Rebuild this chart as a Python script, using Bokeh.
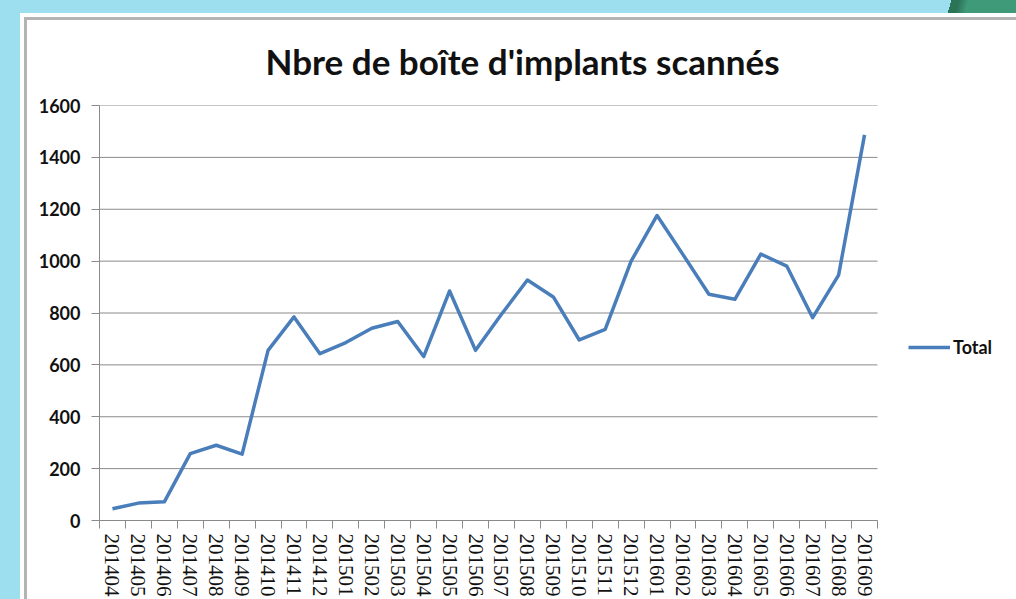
from bokeh.plotting import figure
from bokeh.models import Range1d, FixedTicker, Legend, LegendItem
from bokeh.embed import file_html
from bokeh.resources import INLINE

# ---- data ----
months = ["201404", "201405", "201406", "201407", "201408", "201409",
          "201410", "201411", "201412", "201501", "201502", "201503",
          "201504", "201505", "201506", "201507", "201508", "201509",
          "201510", "201511", "201512", "201601", "201602", "201603",
          "201604", "201605", "201606", "201607", "201608", "201609"]
totals = [45, 67, 72, 258, 290, 256,
          656, 785, 643, 686, 741, 767,
          632, 885, 656, 795, 927, 862,
          696, 737, 1000, 1176, 1025, 872,
          853, 1027, 981, 782, 946, 1487]
y_ticks = [0, 200, 400, 600, 800, 1000, 1200, 1400, 1600]
title_text = "Nbre de boîte d'implants scannés"
series_name = "Total"

n = len(months)
# positions of categories on the numeric axis (centre of each slot)
xs = [i + 0.5 for i in range(n)]
slot_edges = list(range(n + 1))

BLUE_BG = "#9DDFEF"
GRAY = "#8a8a8a"
LINE = "#4A7EBB"

W, H = 1016, 599
ML, MR, MT, MB = 99, 0, 105, 79
PLOT_W = 778                      # pixel width of the category area
frame_w = W - ML - MR
x_end = n * frame_w / PLOT_W      # room on the right for the legend

p = figure(width=W, height=H, output_backend="svg", toolbar_location=None,
           x_range=Range1d(0, x_end), y_range=Range1d(0, 1600),
           min_border_left=ML, min_border_right=MR,
           min_border_top=MT, min_border_bottom=MB,
           title=title_text)

# canvas border transparent; page decoration painted with CSS behind it
p.border_fill_alpha = 0
p.background_fill_color = "white"
p.outline_line_color = None
p.styles = {
    "background": ", ".join([
        "linear-gradient(#b4b4b4,#b4b4b4) 24px 17px / 100% 3px no-repeat",
        "linear-gradient(#b4b4b4,#b4b4b4) 24px 17px / 3px 100% no-repeat",
        "linear-gradient(105deg, rgba(0,0,0,0) 0 30%, #2c7458 30% 38%, #3E9A78 48%) 922px 0 / 94px 13px no-repeat",
        "linear-gradient(#ffffff,#ffffff) 20px 13px / 100% 100% no-repeat",
        BLUE_BG,
    ])
}

# title
p.title.text_font = "Lato"
p.title.text_font_style = "bold"
p.title.text_font_size = "35px"
p.title.text_color = "#111111"
p.title.align = "left"
p.title.offset = 166
p.title.standoff = 47

# horizontal grid lines limited to the category area
p.xgrid.grid_line_color = None
p.ygrid.grid_line_color = None
p.segment(x0=[0] * len(y_ticks), y0=y_ticks, x1=[n] * len(y_ticks), y1=y_ticks,
          line_color=GRAY, line_width=1)

# line
r = p.line(xs, totals, line_color=LINE, line_width=3.5, line_join="round")

# x axis: labels at slot centres, tick marks at slot edges
xa = p.xaxis[0]
xa.bounds = (0, n)
xa.ticker = FixedTicker(ticks=xs, minor_ticks=slot_edges)
xa.major_label_overrides = {x: m for x, m in zip(xs, months)}
xa.major_label_orientation = "vertical"
xa.major_tick_out = 0
xa.major_tick_in = 0
xa.minor_tick_out = 8
xa.minor_tick_in = 0
xa.minor_tick_line_color = GRAY
xa.axis_line_color = GRAY
xa.major_label_standoff = 5
xa.major_label_text_font = "Liberation Serif"
xa.major_label_text_font_size = "21px"
xa.major_label_text_color = "#111111"

# y axis
ya = p.yaxis[0]
ya.ticker = FixedTicker(ticks=y_ticks)
ya.major_tick_out = 8
ya.major_tick_in = 0
ya.minor_tick_line_color = None
ya.major_tick_line_color = GRAY
ya.axis_line_color = GRAY
ya.major_label_standoff = 11
ya.major_label_text_font = "Lato"
ya.major_label_text_font_style = "bold"
ya.major_label_text_font_size = "18px"
ya.major_label_text_color = "#111111"

legend = Legend(items=[LegendItem(label=series_name, renderers=[r])],
                location=(809, 162), padding=0, margin=0, spacing=0,
                glyph_width=42, glyph_height=22, label_standoff=3,
                label_text_font="Lato", label_text_font_style="bold",
                label_text_font_size="18px", label_text_color="#111111",
                background_fill_alpha=0, border_line_color=None)
p.add_layout(legend)

open("out.html", "w").write(file_html(p, INLINE))
